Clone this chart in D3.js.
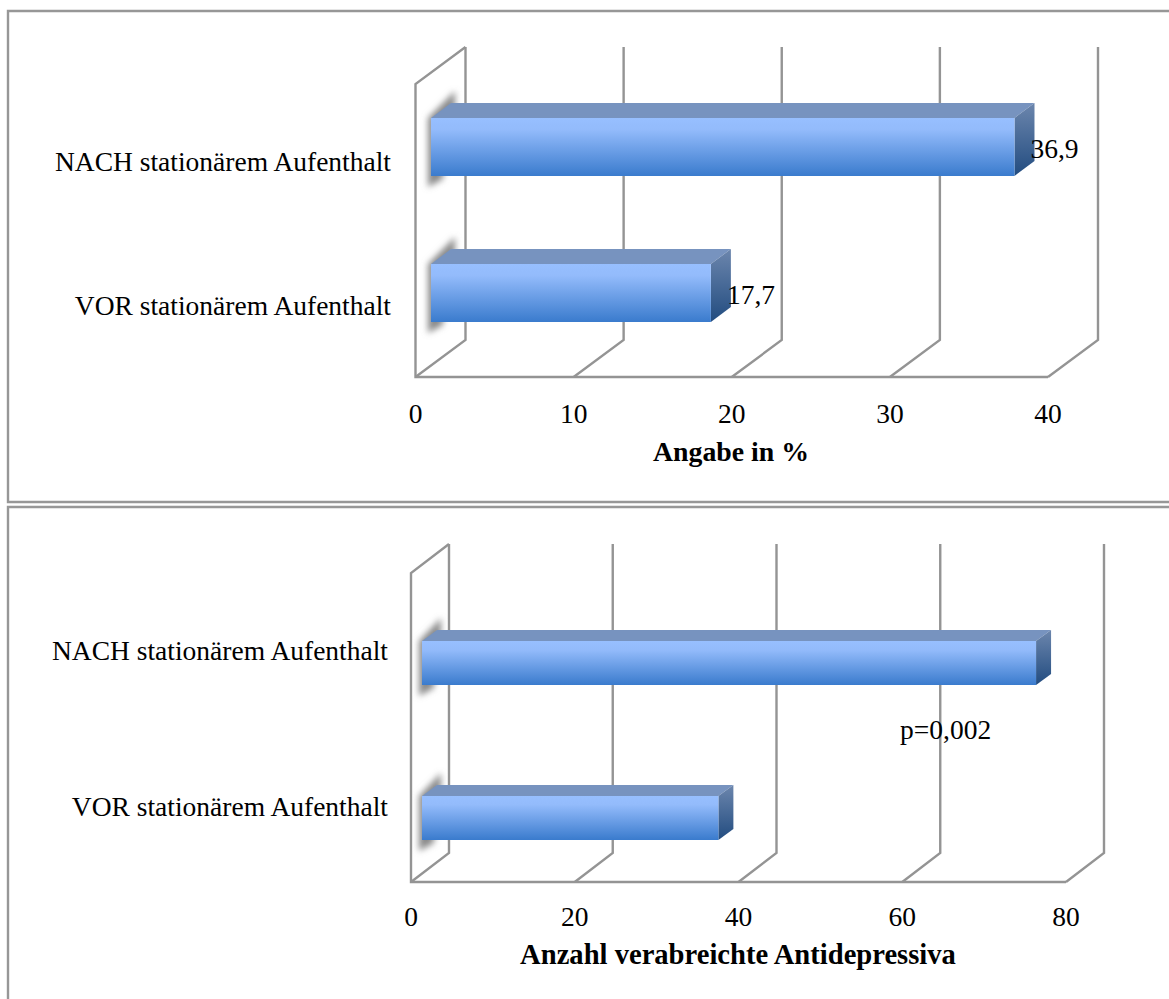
<!DOCTYPE html>
<html>
<head>
<meta charset="utf-8">
<script src="https://cdnjs.cloudflare.com/ajax/libs/d3/7.8.5/d3.min.js"></script>
<style>
  html, body { margin: 0; padding: 0; background: #fff; overflow: hidden; }
  text { font-family: "Liberation Serif", serif; fill: #000; }
</style>
</head>
<body>
<script>
const categories = ["NACH stationärem Aufenthalt", "VOR stationärem Aufenthalt"];

const percentValues = [36.9, 17.7];
const percentLabels = ["36,9", "17,7"];
const percentTicks = [0, 10, 20, 30, 40];

const countValues = [75, 36.2];
const countTicks = [0, 20, 40, 60, 80];

const svg = d3.select("body").append("svg").attr("width", 1169).attr("height", 999);
const defs = svg.append("defs");

const front = defs.append("linearGradient").attr("id", "front").attr("x1", 0).attr("x2", 0).attr("y1", 0).attr("y2", 1);
front.append("stop").attr("offset", "0%").attr("stop-color", "#97bfff");
front.append("stop").attr("offset", "20%").attr("stop-color", "#93bbfb");
front.append("stop").attr("offset", "100%").attr("stop-color", "#3a7bcd");

const side = defs.append("linearGradient").attr("id", "side").attr("x1", 0).attr("x2", 0).attr("y1", 0).attr("y2", 1);
side.append("stop").attr("offset", "0%").attr("stop-color", "#6c86ad");
side.append("stop").attr("offset", "100%").attr("stop-color", "#224c80");

defs.append("filter").attr("id", "blur").attr("x", "-100%").attr("y", "-100%").attr("width", "300%").attr("height", "300%")
  .append("feGaussianBlur").attr("stdDeviation", 3);

const gridColor = "#949494";
const line = d3.line();

function drawFrame(points) {
  svg.append("path").attr("d", line(points)).attr("fill", "none")
    .attr("stroke", "#979797").attr("stroke-width", 2.4);
}

function drawChart(cfg) {
  const x = d3.scaleLinear().domain(d3.extent(cfg.ticks)).range(cfg.floorRange);
  const g = svg.append("g");
  const floorY = cfg.floorY;
  const left = cfg.floorRange[0];

  // side wall and floor
  g.append("path")
    .attr("d", line([
      [left + cfg.depth[0], cfg.wallTop],
      [left, cfg.wallTop - cfg.depth[1]],
      [left, floorY],
      [x(cfg.ticks[cfg.ticks.length - 1]), floorY],
    ]))
    .attr("fill", "none").attr("stroke", gridColor).attr("stroke-width", 2.4);

  // grid lines running back from the floor and up the wall
  cfg.ticks.forEach((t) => {
    g.append("path")
      .attr("d", line([
        [x(t), floorY],
        [x(t) + cfg.depth[0], floorY + cfg.depth[1]],
        [x(t) + cfg.depth[0], cfg.wallTop],
      ]))
      .attr("fill", "none").attr("stroke", gridColor).attr("stroke-width", 2.4);
  });

  const barStart = left + cfg.barInset;
  const w = (v) => x(v) - x(0);

  cfg.values.forEach((v, i) => {
    const top = cfg.barTops[i];
    const bottom = top + cfg.barHeight;
    const [dx, dy] = cfg.barDepth;
    const right = barStart + w(v);

    // shadow on the wall
    g.append("path")
      .attr("d", line([
        [barStart - 3, top], [barStart + dx + 4, top + dy - 12],
        [barStart + dx + 4, top], [barStart + 12, bottom], [barStart + 12, bottom + 3],
        [barStart - 3, bottom + 11],
      ]) + "Z")
      .attr("fill", "#8a8a8a").attr("filter", "url(#blur)");

    g.append("path")
      .attr("d", line([[barStart, top], [barStart + dx, top + dy], [right + dx, top + dy], [right, top]]) + "Z")
      .attr("fill", "#7793bf");
    g.append("path")
      .attr("d", line([[right, top], [right + dx, top + dy], [right + dx, bottom + dy], [right, bottom]]) + "Z")
      .attr("fill", "url(#side)");
    g.append("rect")
      .attr("x", barStart).attr("y", top).attr("width", w(v)).attr("height", cfg.barHeight)
      .attr("fill", "url(#front)");

    g.append("text")
      .attr("x", cfg.labelX).attr("y", cfg.catY[i])
      .attr("text-anchor", "end").attr("font-size", cfg.fontSize)
      .text(categories[i]);

    if (cfg.valueLabels) {
      g.append("text")
        .attr("x", right + cfg.valueDx).attr("y", cfg.valueY[i])
        .attr("font-size", cfg.fontSize)
        .text(cfg.valueLabels[i]);
    }
  });

  cfg.ticks.forEach((t) => {
    g.append("text")
      .attr("x", x(t)).attr("y", cfg.tickY)
      .attr("text-anchor", "middle").attr("font-size", cfg.fontSize)
      .text(t);
  });

  g.append("text")
    .attr("x", cfg.titleX).attr("y", cfg.titleY)
    .attr("text-anchor", "middle").attr("font-weight", "bold").attr("font-size", cfg.titleSize)
    .text(cfg.title);
}

drawFrame([[1169, 11], [8, 11], [8, 502], [1169, 502]]);
drawFrame([[8, 1000], [8, 507], [1169, 507]]);

drawChart({
  ticks: percentTicks, values: percentValues, valueLabels: percentLabels,
  floorRange: [415.5, 1048], floorY: 377, wallTop: 47, depth: [50, -37],
  barInset: 15.5, barDepth: [20, -15], barTops: [118, 264], barHeight: 58,
  labelX: 391, catY: [171, 315], valueDx: 16, valueY: [158, 304],
  tickY: 423, titleX: 731, titleY: 461, title: "Angabe in %", fontSize: 27.5, titleSize: 27.8,
});

drawChart({
  ticks: countTicks, values: countValues,
  floorRange: [411, 1066], floorY: 882, wallTop: 544, depth: [38, -29],
  barInset: 11, barDepth: [15, -11], barTops: [641, 796], barHeight: 44,
  labelX: 388, catY: [660, 816],
  tickY: 926, titleX: 738, titleY: 964, title: "Anzahl verabreichte Antidepressiva", fontSize: 27.5, titleSize: 28.6,
});

svg.append("text").attr("x", 900).attr("y", 739).attr("font-size", 27.5).text("p=0,002");
</script>
</body>
</html>
